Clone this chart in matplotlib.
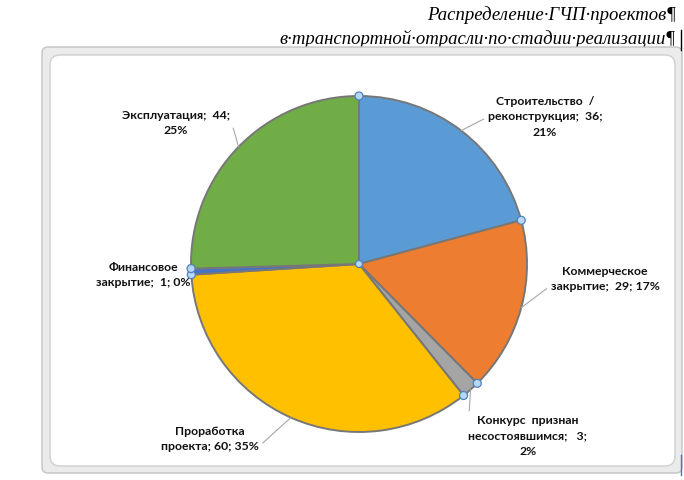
import numpy as np
import matplotlib
matplotlib.use("Agg")
import matplotlib.pyplot as plt
from matplotlib.patches import FancyBboxPatch, Circle

# ---- data ----
categories = ["Строительство  /\nреконструкция;  36;\n21%",
              "Коммерческое\nзакрытие;  29; 17%",
              "Конкурс  признан\nнесостоявшимся;   3;\n2%",
              "Проработка\nпроекта; 60; 35%",
              "Финансовое\nзакрытие;  1; 0%",
              "Эксплуатация;  44;\n25%"]
values = [36, 29, 3, 60, 1, 44]
colors = ["#5b9bd5", "#ed7d31", "#a5a5a5", "#ffc000", "#4472c4", "#70ad47"]
title_lines = ["Распределение·ГЧП·проектов¶",
               "в·транспортной·отрасли·по·стадии·реализации¶"]

W, H = 684, 480
fig = plt.figure(figsize=(W / 100, H / 100), dpi=100)

# background axes in pixel coordinates
bg = fig.add_axes([0, 0, 1, 1])
bg.set_xlim(0, W)
bg.set_ylim(H, 0)
bg.axis("off")

# title (Word document text)
bg.text(676, 15, title_lines[0], ha="right", va="center",
        fontsize=13.5, family="Liberation Serif", style="italic", zorder=1)
bg.text(676, 39, title_lines[1], ha="right", va="center",
        fontsize=13.5, family="Liberation Serif", style="italic", zorder=1)

# chart frame
outer = FancyBboxPatch((42, 47), 640, 426, boxstyle="round,pad=0,rounding_size=6",
                       facecolor="#ebebeb", edgecolor="#c4c4c4", lw=1.0, zorder=2)
bg.add_patch(outer)
inner = FancyBboxPatch((50, 55), 625, 411, boxstyle="round,pad=0,rounding_size=10",
                       facecolor="white", edgecolor="#cfcfcf", lw=1.0, zorder=3)
bg.add_patch(inner)
bg.plot([680.5, 680.5], [30, 50], color="black", lw=1, zorder=4)
bg.plot([680.5, 680.5], [455, 475], color="#4f6fbf", lw=1, zorder=4)

# pie axes: center (359,264), radius 168 px
cx, cy, R = 359, 264, 168
half = 200
ax = fig.add_axes([(cx - half) / W, (H - cy - half) / H, 2 * half / W, 2 * half / H])

wedges, _ = ax.pie(values, colors=colors, startangle=90, counterclock=False,
                   radius=1.0, wedgeprops=dict(edgecolor="#777777", linewidth=1.4),
                   normalize=True)
for w in wedges:
    w.set_zorder(5)
lim = half / R
ax.set_xlim(-lim, lim)
ax.set_ylim(-lim, lim)
ax.set_aspect("equal")
ax.axis("off")

# label positions (pixel centers) and leader attachment
label_px = [(545, 117), (605, 279), (528, 436), (210, 439), (143, 275), (176, 123)]
relpos = [(0.0, 0.5), (0.0, 0.25), (0.0, 0.83), (1.0, 0.22), None, (1.0, 0.72)]

total = sum(values)
cum = np.cumsum([0] + values)
for i, (lab, (px, py)) in enumerate(zip(categories, label_px)):
    mid = np.deg2rad(90 - (cum[i] + values[i] / 2) / total * 360)
    tx, ty = (px - cx) / R, (cy - py) / R
    kw = dict(ha="center", va="center", fontsize=8.8, family="Lato",
              fontweight="bold", linespacing=1.52, color="#111111", zorder=7)
    if relpos[i] is not None:
        ax.annotate(lab, xy=(np.cos(mid), np.sin(mid)), xytext=(tx, ty),
                    annotation_clip=False,
                    arrowprops=dict(arrowstyle="-", color="#a6a6a6", lw=0.8,
                                    shrinkA=1, shrinkB=0, relpos=relpos[i]), **kw)
    else:
        ax.text(tx, ty, lab, **kw)

# selection handles at slice boundaries (Word chart selected)
for c in cum[:-1]:
    a = np.deg2rad(90 - c / total * 360)
    ax.add_patch(Circle((np.cos(a), np.sin(a)), 4 / R, facecolor="#b7d7f2",
                        edgecolor="#4f81bd", lw=0.9, zorder=8))
ax.add_patch(Circle((0, 0), 3.5 / R, facecolor="#b7d7f2",
                    edgecolor="#4f81bd", lw=0.9, zorder=8))

fig.savefig("out.png", dpi=100)
